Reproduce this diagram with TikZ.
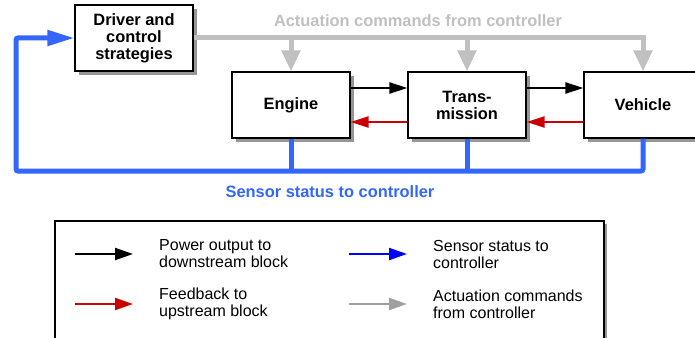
\documentclass[tikz,border=0pt]{standalone}
\usepackage{fontspec}
\setmainfont{Liberation Sans}
\usetikzlibrary{arrows.meta,shadows}

\definecolor{sensorblue}{RGB}{51,102,255}
\definecolor{actgray}{RGB}{192,192,192}
\definecolor{fbred}{RGB}{204,0,0}
\definecolor{shadowgray}{RGB}{150,150,150}
\definecolor{keyblue}{RGB}{0,0,255}
\definecolor{keygray}{RGB}{160,160,160}

\tikzset{
  block/.style={draw, line width=1.2pt, fill=white, minimum width=118pt,
    minimum height=66pt, inner sep=0pt, align=center,
    font=\bfseries\fontsize{16.4}{17}\selectfont,
    drop shadow={shadow xshift=4pt, shadow yshift=-4pt, fill=shadowgray, opacity=1}},
  actline/.style={actgray, line width=5pt},
  acttip/.style={-{Triangle[length=21pt,width=18pt]}},
  sensorline/.style={sensorblue, line width=5pt, rounded corners=2pt},
  flowline/.style={line width=2pt, -{Triangle[length=18pt,width=11pt]}},
  keyarrow/.style={line width=2pt, -{Triangle[length=18pt,width=12pt]}},
  keytext/.style={anchor=west, align=left, inner sep=0pt,
    font=\fontsize{16}{17}\selectfont},
}

\begin{document}
\begin{tikzpicture}[x=1pt,y=-1pt]
\clip (0,0) rectangle (695,337);

% blocks
\node[block] (driver) at (134,38) {Driver and\\control\\strategies};
\node[block] (engine) at (291,105) {Engine};
\node[block] (trans) at (467,105) {Trans-\\mission};
\node[block] (vehicle) at (643,105) {Vehicle};

% actuation commands
\draw[actline] (driver.east) -- (vehicle.north |- driver.east) -- ([yshift=-12pt]vehicle.north |- driver.east);
\foreach \b in {engine,trans,vehicle}
  \draw[actline, acttip] (\b.north |- driver.east) -- (\b.north);
\node[text=actgray, font=\bfseries\fontsize{16.4}{17}\selectfont] (actlabel) at (418,21) {Actuation commands from controller};

% power output and feedback
\draw[flowline] ([yshift=17pt]engine.east) -- ([yshift=17pt]trans.west);
\draw[flowline] ([yshift=17pt]trans.east) -- ([yshift=17pt]vehicle.west);
\draw[flowline, fbred] ([yshift=-17pt]trans.west) -- ([yshift=-17pt]engine.east);
\draw[flowline, fbred] ([yshift=-17pt]vehicle.west) -- ([yshift=-17pt]trans.east);

% sensor status
\coordinate (loop) at (16,171);
\draw[sensorline, -{Triangle[length=27pt,width=15pt]}] (vehicle.south) -- (vehicle.south |- loop) -- (loop) |- (driver.west);
\foreach \b in {engine,trans}
  \draw[sensorline] (\b.south) -- (\b.south |- loop);
\node[text=sensorblue, font=\bfseries\fontsize{16.4}{17}\selectfont] (senslabel) at (330,192) {Sensor status to controller};

% legend
\draw[line width=1.2pt, fill=white, drop shadow={shadow xshift=3pt, shadow yshift=-3pt, fill=shadowgray, opacity=1}] (55,221) rectangle (604,345);
\coordinate (kpower) at (75,254);
\coordinate (kfeed) at (75,304);
\coordinate (ksensor) at (349,254);
\coordinate (kact) at (349,304);
\draw[keyarrow] (kpower) -- ++(58,0);
\draw[keyarrow, fbred] (kfeed) -- ++(58,0);
\draw[keyarrow, keyblue] (ksensor) -- ++(58,0);
\draw[keyarrow, keygray] (kact) -- ++(58,0);
\node[keytext] (tpower) at (159,254) {Power output to\\downstream block};
\node[keytext] (tfeed) at (159,304) {Feedback to\\upstream block};
\node[keytext] (tsensor) at (433,254) {Sensor status to\\controller};
\node[keytext] (tact) at (433,304) {Actuation commands\\from controller};
\end{tikzpicture}
\end{document}
